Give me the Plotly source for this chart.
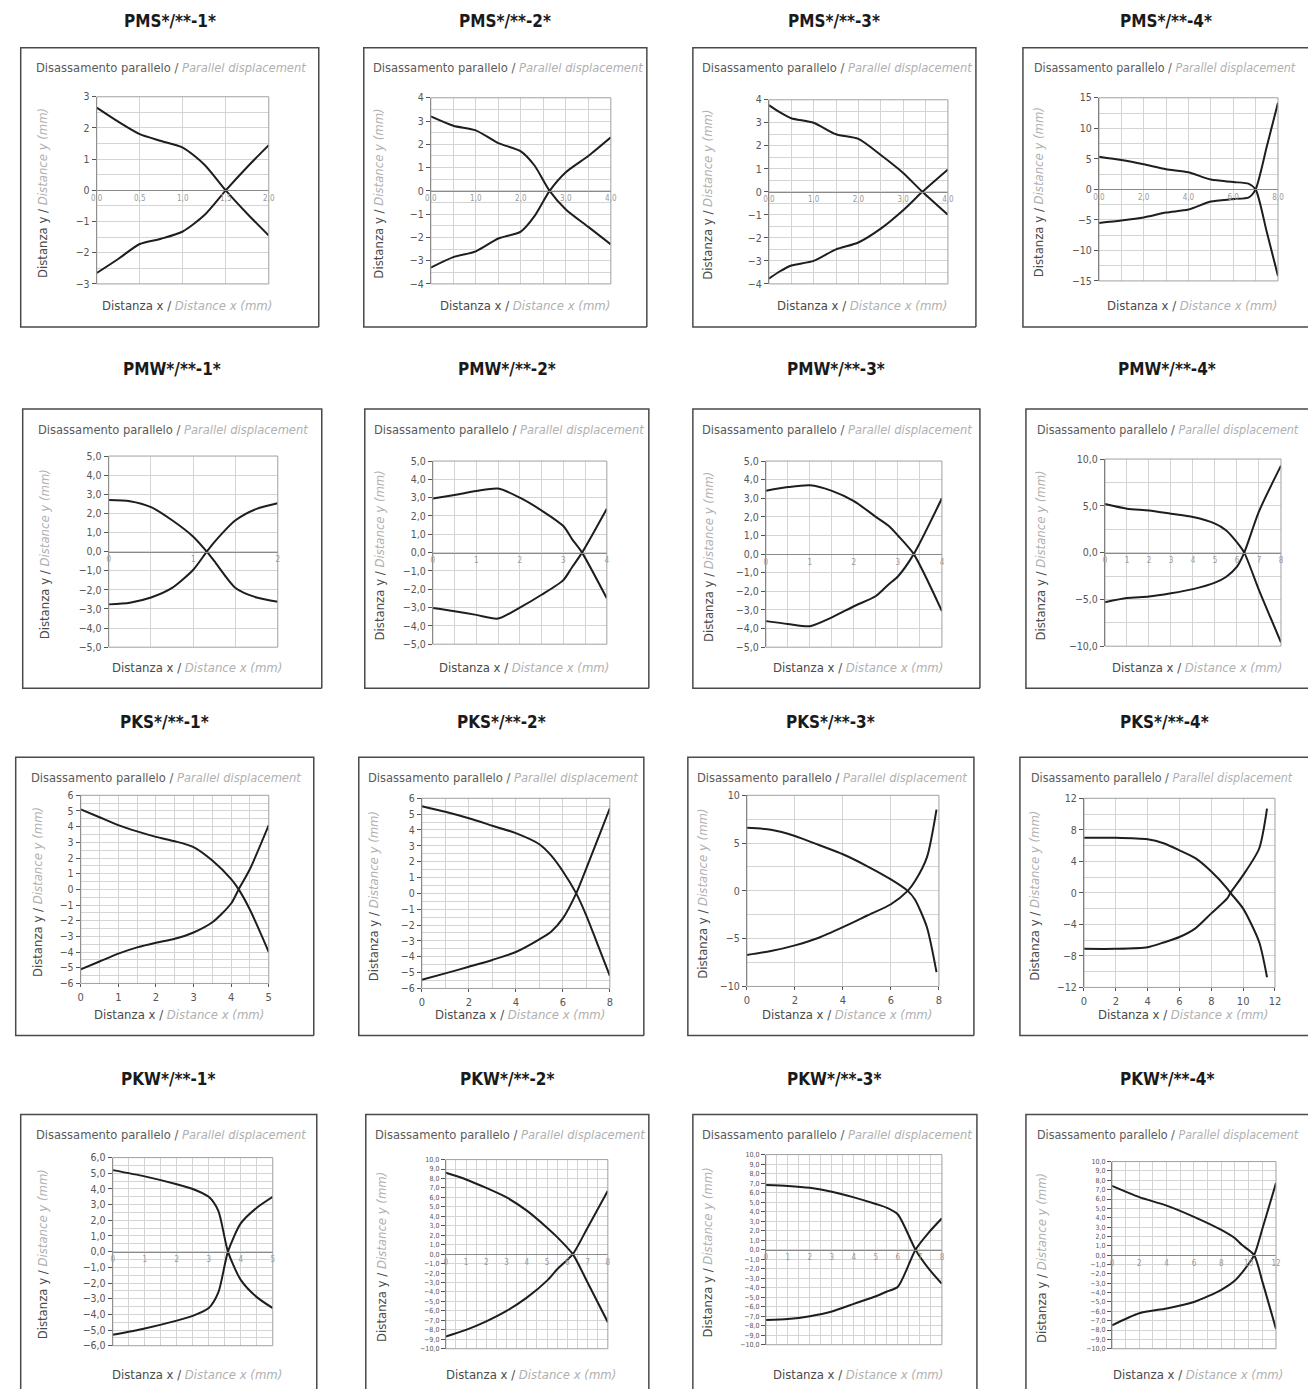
import plotly.graph_objects as go

W, H = 1308, 1389

# ---- data (x in mm, two mirrored curves per chart) ----
pms1_x = [0, 0.25, 0.5, 0.75, 1.0, 1.25, 1.5, 1.75, 2.0]
pms1_up = [2.65, 2.2, 1.8, 1.58, 1.37, 0.83, 0.0, -0.75, -1.45]
pms1_dn = [-2.65, -2.2, -1.72, -1.55, -1.32, -0.8, 0.0, 0.75, 1.45]

pms2_x = [0, 0.5, 1.0, 1.5, 2.0, 2.3, 2.64, 3.0, 3.5, 4.0]
pms2_up = [3.2, 2.8, 2.6, 2.05, 1.7, 1.1, 0.0, -0.8, -1.55, -2.3]
pms2_dn = [-3.3, -2.85, -2.6, -2.05, -1.75, -1.1, 0.0, 0.8, 1.5, 2.3]

pms3_x = [0, 0.25, 0.5, 1.0, 1.5, 2.0, 2.5, 3.0, 3.43, 4.0]
pms3_up = [3.77, 3.45, 3.2, 3.0, 2.5, 2.3, 1.6, 0.82, 0.0, -1.0]
pms3_dn = [-3.77, -3.45, -3.2, -3.0, -2.5, -2.2, -1.6, -0.8, 0.0, 0.97]

pms4_x = [0, 1, 2, 3, 4, 5, 6, 6.7, 7.0, 7.5, 8.0]
pms4_up = [5.35, 4.8, 4.1, 3.3, 2.8, 1.6, 1.2, 0.9, 0.0, -7.0, -14.2]
pms4_dn = [-5.5, -5.1, -4.6, -3.8, -3.3, -2.0, -1.6, -1.3, 0.0, 7.0, 14.2]

pmw1_x = [0, 0.25, 0.5, 0.75, 1.0, 1.16, 1.25, 1.5, 1.75, 2.0]
pmw1_up = [2.7, 2.64, 2.33, 1.64, 0.78, 0.0, -0.5, -1.9, -2.4, -2.62]
pmw1_dn = [-2.76, -2.67, -2.4, -1.9, -0.95, 0.0, 0.5, 1.64, 2.24, 2.53]

pmw2_x = [0, 0.5, 1.0, 1.5, 2.0, 2.5, 3.0, 3.2, 3.43, 4.0]
pmw2_up = [2.96, 3.15, 3.36, 3.5, 3.0, 2.3, 1.45, 0.74, 0.0, -2.5]
pmw2_dn = [-3.03, -3.2, -3.4, -3.6, -3.0, -2.3, -1.5, -0.8, 0.0, 2.4]

pmw3_x = [0, 0.5, 1.0, 1.5, 2.0, 2.5, 2.8, 3.0, 3.36, 4.0]
pmw3_up = [3.4, 3.6, 3.7, 3.4, 2.85, 2.0, 1.5, 1.0, 0.0, -3.06]
pmw3_dn = [-3.6, -3.75, -3.87, -3.4, -2.8, -2.25, -1.6, -1.2, 0.0, 3.0]

pmw4_x = [0, 1, 2, 3, 4, 5, 5.5, 6, 6.33, 7, 8]
pmw4_up = [5.2, 4.7, 4.5, 4.15, 3.8, 3.1, 2.4, 1.1, 0.0, -4.0, -9.6]
pmw4_dn = [-5.3, -4.85, -4.7, -4.35, -3.9, -3.2, -2.6, -1.5, 0.0, 4.4, 9.3]

pks1_x = [0, 0.5, 1.0, 1.5, 2.0, 2.5, 3.0, 3.5, 4.0, 4.2, 4.5, 5.0]
pks1_up = [5.1, 4.6, 4.1, 3.7, 3.35, 3.07, 2.7, 1.84, 0.65, 0.0, -1.3, -4.0]
pks1_dn = [-5.1, -4.6, -4.1, -3.7, -3.4, -3.15, -2.75, -2.1, -0.9, 0.0, 1.3, 4.1]

pks2_x = [0, 1, 2, 3, 4, 5, 5.5, 6, 6.57, 7, 7.5, 8]
pks2_up = [5.5, 5.15, 4.74, 4.27, 3.8, 3.1, 2.4, 1.4, 0.0, -1.4, -3.3, -5.2]
pks2_dn = [-5.45, -5.05, -4.63, -4.2, -3.7, -2.9, -2.42, -1.58, 0.0, 1.58, 3.47, 5.37]

pks3_x = [0, 1, 2, 3, 4, 5, 6, 6.7, 7, 7.5, 7.9]
pks3_up = [6.6, 6.4, 5.75, 4.8, 3.83, 2.6, 1.2, 0.0, -0.9, -3.8, -8.5]
pks3_dn = [-6.7, -6.3, -5.7, -4.9, -3.8, -2.6, -1.4, 0.0, 1.0, 3.5, 8.5]

pks4_x = [0, 2, 4, 5, 6, 7, 8, 9, 9.2, 10, 11, 11.5]
pks4_up = [7.0, 7.0, 6.8, 6.3, 5.4, 4.4, 2.7, 0.55, 0.0, -2.0, -6.2, -10.7]
pks4_dn = [-7.1, -7.1, -6.9, -6.3, -5.6, -4.5, -2.6, -0.7, 0.0, 2.25, 5.6, 10.7]

pkw1_x = [0, 1, 2, 2.5, 3.0, 3.3, 3.6, 4.0, 4.5, 5.0]
pkw1_up = [5.2, 4.8, 4.3, 4.0, 3.5, 2.6, 0.0, -1.8, -2.9, -3.6]
pkw1_dn = [-5.3, -4.9, -4.4, -4.1, -3.6, -2.6, 0.0, 1.8, 2.8, 3.5]

pkw2_x = [0, 1, 2, 3, 4, 5, 5.5, 6.27, 7, 8]
pkw2_up = [8.6, 7.9, 7.0, 6.0, 4.6, 2.8, 1.8, 0.0, -3.0, -7.2]
pkw2_dn = [-8.7, -8.0, -7.1, -6.0, -4.6, -2.8, -1.6, 0.0, 2.8, 6.7]

pkw3_x = [0, 1, 2, 3, 4, 5, 5.5, 6, 6.8, 7.4, 8]
pkw3_up = [6.8, 6.7, 6.5, 6.1, 5.5, 4.8, 4.4, 3.7, 0.0, -2.0, -3.6]
pkw3_dn = [-7.4, -7.3, -7.0, -6.5, -5.7, -4.9, -4.4, -3.9, 0.0, 1.8, 3.3]

pkw4_x = [0, 2, 4, 6, 8, 9, 9.5, 10.4, 11, 12]
pkw4_up = [7.4, 6.2, 5.3, 4.1, 2.7, 1.8, 1.1, 0.0, -2.8, -7.9]
pkw4_dn = [-7.5, -6.2, -5.7, -5.0, -3.7, -2.7, -1.9, 0.0, 2.8, 7.7]

titles = ["PMS*/**-1*", "PMS*/**-2*", "PMS*/**-3*", "PMS*/**-4*",
          "PMW*/**-1*", "PMW*/**-2*", "PMW*/**-3*", "PMW*/**-4*",
          "PKS*/**-1*", "PKS*/**-2*", "PKS*/**-3*", "PKS*/**-4*",
          "PKW*/**-1*", "PKW*/**-2*", "PKW*/**-3*", "PKW*/**-4*"]

series = [(pms1_x, pms1_up, pms1_dn), (pms2_x, pms2_up, pms2_dn),
          (pms3_x, pms3_up, pms3_dn), (pms4_x, pms4_up, pms4_dn),
          (pmw1_x, pmw1_up, pmw1_dn), (pmw2_x, pmw2_up, pmw2_dn),
          (pmw3_x, pmw3_up, pmw3_dn), (pmw4_x, pmw4_up, pmw4_dn),
          (pks1_x, pks1_up, pks1_dn), (pks2_x, pks2_up, pks2_dn),
          (pks3_x, pks3_up, pks3_dn), (pks4_x, pks4_up, pks4_dn),
          (pkw1_x, pkw1_up, pkw1_dn), (pkw2_x, pkw2_up, pkw2_dn),
          (pkw3_x, pkw3_up, pkw3_dn), (pkw4_x, pkw4_up, pkw4_dn)]

# ---- layout of each panel in pixels ----
# box = (left, top, right, bottom); right/bottom None = runs off the page
boxes = [(20, 47, 318, 326), (363, 47, 646, 326), (692, 47, 975, 326), (1022, 47, None, 326),
         (22, 408, 321, 687), (364, 408, 648, 687), (692, 408, 979, 687), (1025, 408, None, 687),
         (15, 756, 313, 1034), (358, 756, 643, 1034), (687, 756, 973, 1034), (1019, 756, None, 1034),
         (20, 1113, 316, None), (365, 1113, 648, None), (692, 1113, 976, None), (1025, 1113, None, None)]
plots = [(96, 96, 268, 283), (430, 97, 610, 283), (768, 99, 947, 283), (1098, 97, 1277, 280),
         (108, 455, 277, 646), (432, 460, 606, 643), (765, 460, 941, 646), (1104, 458, 1280, 645),
         (80, 794, 268, 982), (421, 797, 609, 987), (746, 794, 938, 985), (1083, 797, 1274, 986),
         (112, 1156, 272, 1344), (445, 1158, 607, 1347), (765, 1153, 941, 1343), (1111, 1160, 1275, 1347)]
title_y = [20, 368, 721, 1077]
xtitle_y = [305, 666, 1013, 1373]
header_dx = [13, 7, 7, 9]
header_size = [12.8, 12.8, 12.8, 12.4]
ytitle_dx = [22, 15, 15, 15]

# axis settings: x range, x label step, x grid step, y range, y label step, y grid step,
# x tick format, y tick format, x labels on the zero line?
axes = [
    ([0, 2], 0.5, 0.5, [-3, 3], 1, 0.5, ".1f", "d", True),
    ([0, 4], 1, 0.5, [-4, 4], 1, 0.5, ".1f", "d", True),
    ([0, 4], 1, 0.5, [-4, 4], 1, 0.5, ".1f", "d", True),
    ([0, 8], 2, 1, [-15, 15], 5, 2.5, ".1f", "d", True),
    ([0, 2], 1, 0.5, [-5, 5], 1, 1, "d", ".1f", True),
    ([0, 4], 1, 0.5, [-5, 5], 1, 1, "d", ".1f", True),
    ([0, 4], 1, 0.5, [-5, 5], 1, 1, "d", ".1f", True),
    ([0, 8], 1, 1, [-10, 10], 5, 2.5, "d", ".1f", True),
    ([0, 5], 1, 0.5, [-6, 6], 1, 0.5, "d", "d", False),
    ([0, 8], 2, 1, [-6, 6], 1, 0.5, "d", "d", False),
    ([0, 8], 2, 2, [-10, 10], 5, 2.5, "d", "d", False),
    ([0, 12], 2, 2, [-12, 12], 4, 2, "d", "d", False),
    ([0, 5], 1, 0.5, [-6, 6], 1, 0.5, "d", ".1f", True),
    ([0, 8], 1, 0.5, [-10, 10], 1, 1, "d", ".1f", True),
    ([0, 8], 1, 0.5, [-10, 10], 1, 1, "d", ".1f", True),
    ([0, 12], 2, 1, [-10, 10], 1, 1, "d", ".1f", True),
]

FONT = "DejaVu Sans Condensed, Liberation Sans Narrow, Roboto Condensed, Liberation Sans, sans-serif"
GRID = "#d4d4d4"
LIGHT = "#b0b0b0"

# the photographed page comes out slightly shrunk and shifted; undo that
OFF, SCALE = 5.3, 0.9906


def fx(px):
    return ((px - OFF) / SCALE) / W


def fy(py):
    return 1 - ((py - OFF) / SCALE) / H


fig = go.Figure()
shapes = []
annotations = []
layout_axes = {}

for i in range(16):
    n = i + 1
    col = i % 4
    xs, up, dn = series[i]
    bl, bt, br, bb = boxes[i]
    pl, pt, pr, pb = plots[i]
    xr, xdt, xg, yr, ydt, yg, xfmt, yfmt, on_zero = axes[i]
    xa = "x" if n == 1 else "x%d" % n
    ya = "y" if n == 1 else "y%d" % n

    for ys in (up, dn):
        fig.add_trace(go.Scatter(x=xs, y=ys, mode="lines", xaxis=xa, yaxis=ya,
                                 line=dict(color="#1e1e1e", width=2, shape="spline", smoothing=0.7),
                                 showlegend=False, hoverinfo="skip"))

    ydom = [fy(pb), fy(pt)]
    xaxis = dict(domain=[fx(pl), fx(pr)], range=xr, dtick=xdt, tick0=0,
                 tickformat=xfmt, showgrid=True, gridcolor=GRID, gridwidth=1,
                 minor=dict(dtick=xg, tick0=0, showgrid=True, gridcolor=GRID, gridwidth=1),
                 zeroline=False, fixedrange=True)
    if on_zero:
        xaxis.update(anchor="free", position=(ydom[0] + ydom[1]) / 2, showline=True,
                     linecolor="#8a8a8a", linewidth=1, ticks="",
                     tickfont=dict(size=8, color="#9a9a9a", family=FONT))
    else:
        xaxis.update(anchor=ya, showline=False, ticks="outside", ticklen=3, tickcolor="#555",
                     tickfont=dict(size=11, color="#555", family=FONT))
    yfont = 7 if (i >= 13) else 10.5
    yaxis = dict(domain=ydom, anchor=xa, range=yr, dtick=ydt, tick0=0, tickformat=yfmt,
                 showgrid=True, gridcolor=GRID, gridwidth=1,
                 minor=dict(dtick=yg, tick0=0, showgrid=True, gridcolor=GRID, gridwidth=1),
                 zeroline=False, showline=True, linecolor="#555", linewidth=1,
                 ticks="outside", ticklen=4, tickcolor="#555",
                 tickfont=dict(size=yfont, color="#555", family=FONT), fixedrange=True)
    layout_axes["xaxis" if n == 1 else "xaxis%d" % n] = xaxis
    layout_axes["yaxis" if n == 1 else "yaxis%d" % n] = yaxis

    # plot frame
    shapes.append(dict(type="rect", xref=xa + " domain", yref=ya + " domain",
                       x0=0, x1=1, y0=0, y1=1, line=dict(color="#a0a0a0", width=1)))
    # panel box, left open where it runs off the page
    r = br if br is not None else W + 2
    b = bb if bb is not None else H + 2
    if bb is None:
        start = (bl, b)
    else:
        start = (r, b)
    path = "M %f,%f" % (fx(start[0]), fy(start[1]))
    if bb is not None:
        path += " L %f,%f" % (fx(bl), fy(b))
    path += " L %f,%f L %f,%f" % (fx(bl), fy(bt), fx(r), fy(bt))
    if br is not None:
        path += " L %f,%f" % (fx(r), fy(b))
    shapes.append(dict(type="path", xref="paper", yref="paper", path=path,
                       line=dict(color="#4a4a4a", width=1.5)))

    # title above the box
    cx = (bl + br) / 2 if br is not None else (bl + 1308) / 2
    annotations.append(dict(text="<b>%s</b>" % titles[i], xref="paper", yref="paper",
                            x=fx(cx), y=fy(title_y[i // 4]), xanchor="center", yanchor="middle",
                            showarrow=False, font=dict(size=17, color="#1a1a1a", family=FONT)))
    # header inside the box
    annotations.append(dict(text="Disassamento parallelo / <i><span style='color:%s'>Parallel displacement</span></i>" % LIGHT,
                            xref="paper", yref="paper", x=fx(bl + header_dx[col]), y=fy(bt + 20),
                            xanchor="left", yanchor="middle", showarrow=False,
                            font=dict(size=header_size[col], color="#5a5a5a", family=FONT)))
    # y title
    annotations.append(dict(text="Distanza y / <i><span style='color:%s'>Distance y (mm)</span></i>" % LIGHT,
                            xref="paper", yref="paper", x=fx(bl + ytitle_dx[col]), y=fy((pt + pb) / 2 + 3),
                            xanchor="center", yanchor="middle", textangle=-90, showarrow=False,
                            font=dict(size=13, color="#4a4a4a", family=FONT)))
    # x title
    annotations.append(dict(text="Distanza x / <i><span style='color:%s'>Distance x (mm)</span></i>" % LIGHT,
                            xref="paper", yref="paper", x=fx((pl + pr) / 2 + 4), y=fy(xtitle_y[i // 4]),
                            xanchor="center", yanchor="middle", showarrow=False,
                            font=dict(size=13, color="#4a4a4a", family=FONT)))

fig.update_layout(width=W, height=H, margin=dict(l=0, r=0, t=0, b=0),
                  paper_bgcolor="white", plot_bgcolor="white", separators=",.",
                  font=dict(family=FONT), shapes=shapes, annotations=annotations,
                  **layout_axes)

fig.write_html("out.html", config={"displayModeBar": False},
               post_script="document.body.style.margin='0';document.body.style.overflow='hidden';")
